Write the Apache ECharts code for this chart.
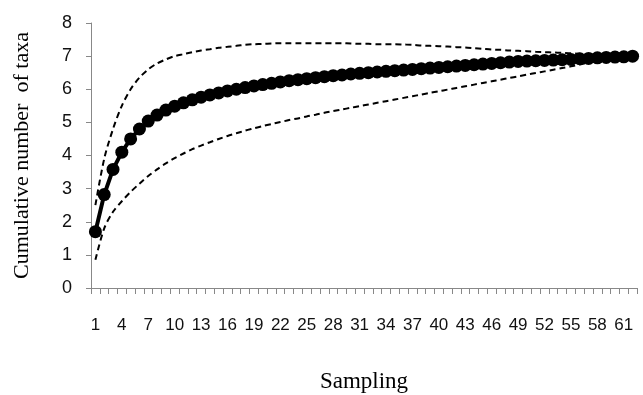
<!DOCTYPE html>
<html>
<head>
<meta charset="utf-8">
<script src="https://cdn.jsdelivr.net/npm/echarts@6/dist/echarts.min.js"></script>
<style>
  html, body { margin: 0; padding: 0; background: #fff; }
  #chart { width: 643px; height: 395px; }
</style>
</head>
<body>
<div id="chart"></div>
<script>
// sampling units 1..62
const samples = Array.from({ length: 62 }, (_, i) => String(i + 1));

// observed cumulative taxa (solid line with markers)
const observed = [
  1.7, 2.82, 3.58, 4.1, 4.5, 4.8, 5.04, 5.22, 5.37, 5.49,
  5.59, 5.68, 5.76, 5.83, 5.89, 5.95, 6.0, 6.05, 6.1, 6.14,
  6.18, 6.22, 6.26, 6.29, 6.32, 6.35, 6.38, 6.41, 6.43, 6.46,
  6.48, 6.5, 6.52, 6.54, 6.56, 6.58, 6.6, 6.62, 6.64, 6.66,
  6.68, 6.7, 6.72, 6.74, 6.76, 6.78, 6.8, 6.82, 6.84, 6.85,
  6.86, 6.87, 6.88, 6.89, 6.9, 6.92, 6.93, 6.95, 6.96, 6.97,
  6.98, 7.0
];

// upper confidence bound (dashed)
const upper = [
  2.5, 3.9, 4.8, 5.5, 6.0, 6.35, 6.6, 6.78, 6.9, 7.0,
  7.06, 7.12, 7.17, 7.21, 7.25, 7.28, 7.31, 7.34, 7.36, 7.37,
  7.38, 7.39, 7.39, 7.39, 7.39, 7.39, 7.39, 7.39, 7.39, 7.38,
  7.37, 7.37, 7.36, 7.36, 7.36, 7.35, 7.34, 7.32, 7.31, 7.3,
  7.29, 7.27, 7.26, 7.24, 7.22, 7.2, 7.19, 7.17, 7.16, 7.15,
  7.13, 7.12, 7.11, 7.1, 7.09, 7.07, 7.04, 7.0, 6.98, 6.98,
  6.99, 7.0
];

// lower confidence bound (dashed)
const lower = [
  0.85, 1.8, 2.3, 2.62, 2.9, 3.15, 3.38, 3.58, 3.76, 3.92,
  4.06, 4.19, 4.3, 4.4, 4.5, 4.59, 4.67, 4.75, 4.82, 4.89,
  4.95, 5.01, 5.07, 5.12, 5.18, 5.23, 5.29, 5.34, 5.39, 5.44,
  5.49, 5.54, 5.59, 5.64, 5.69, 5.74, 5.79, 5.84, 5.89, 5.94,
  5.99, 6.04, 6.09, 6.14, 6.19, 6.24, 6.29, 6.34, 6.39, 6.44,
  6.49, 6.54, 6.59, 6.64, 6.69, 6.75, 6.81, 6.87, 6.93, 6.96,
  6.98, 7.0
];

const chart = echarts.init(document.getElementById('chart'));

const dashedLine = (data) => ({
  type: 'line',
  data: data,
  symbol: 'none',
  smooth: 0.3,
  lineStyle: { color: '#000', width: 2, type: [6, 4] },
  z: 2,
  animation: false
});

chart.setOption({
  backgroundColor: '#fff',
  animation: false,
  grid: { left: 91, right: 6, top: 23, bottom: 107, outerBoundsMode: 'none' },
  xAxis: {
    type: 'category',
    data: samples,
    boundaryGap: true,
    name: 'Sampling',
    nameLocation: 'middle',
    nameGap: 82,
    nameTextStyle: { fontFamily: 'Liberation Serif', fontSize: 23, color: '#000' },
    axisLine: { lineStyle: { color: '#888', width: 1 } },
    axisTick: { show: true, interval: 0, length: 6, lineStyle: { color: '#888' } },
    axisLabel: {
      interval: 2,
      margin: 29,
      fontFamily: 'Liberation Sans',
      fontSize: 17,
      color: '#111'
    },
    splitLine: { show: false }
  },
  yAxis: {
    type: 'value',
    min: 0,
    max: 8,
    interval: 1,
    name: 'Cumulative number  of taxa',
    nameLocation: 'middle',
    nameGap: 58,
    nameTextStyle: { fontFamily: 'Liberation Serif', fontSize: 22, color: '#000' },
    axisLine: { show: true, lineStyle: { color: '#888', width: 1 } },
    axisTick: { show: true, length: 5, lineStyle: { color: '#888' } },
    axisLabel: { margin: 19, fontFamily: 'Liberation Sans', fontSize: 18, color: '#111' },
    splitLine: { show: false }
  },
  series: [
    dashedLine(upper),
    dashedLine(lower),
    {
      type: 'line',
      data: observed,
      symbol: 'circle',
      symbolSize: 13,
      showAllSymbol: true,
      itemStyle: { color: '#000' },
      lineStyle: { color: '#000', width: 4 },
      z: 3,
      animation: false
    }
  ]
});
</script>
</body>
</html>
